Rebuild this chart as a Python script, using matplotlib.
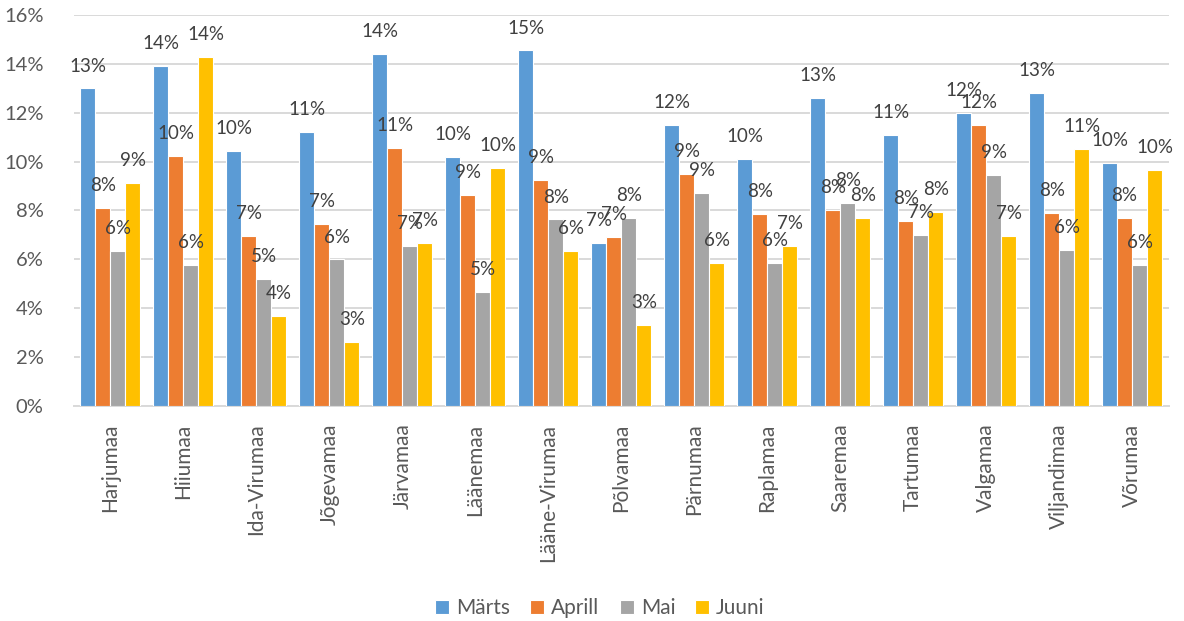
import numpy as np
import matplotlib
matplotlib.use('Agg')
import matplotlib.pyplot as plt
from matplotlib.ticker import FuncFormatter

plt.rcParams['font.family'] = ['Lato', 'DejaVu Sans']

counties = ['Harjumaa', 'Hiiumaa', 'Ida-Virumaa', 'Jõgevamaa', 'Järvamaa', 'Läänemaa',
            'Lääne-Virumaa', 'Põlvamaa', 'Pärnumaa', 'Raplamaa', 'Saaremaa', 'Tartumaa',
            'Valgamaa', 'Viljandimaa', 'Võrumaa']

# monthly shares, %
marts = [13.0, 13.93, 10.42, 11.2, 14.41, 10.19, 14.56, 6.65, 11.52, 10.1, 12.62, 11.09, 11.98, 12.8, 9.93]
aprill = [8.1, 10.22, 6.94, 7.43, 10.57, 8.64, 9.26, 6.91, 9.49, 7.85, 8.02, 7.56, 11.51, 7.9, 7.69]
mai = [6.32, 5.75, 5.19, 5.99, 6.54, 4.64, 7.63, 7.69, 8.7, 5.83, 8.29, 6.98, 9.45, 6.38, 5.76]
juuni = [9.11, 14.28, 3.67, 2.62, 6.65, 9.74, 6.35, 3.31, 5.83, 6.54, 7.69, 7.92, 6.96, 10.52, 9.66]

series = [('Märts', marts, '#5B9BD5'),
          ('Aprill', aprill, '#ED7D31'),
          ('Mai', mai, '#A5A5A5'),
          ('Juuni', juuni, '#FFC000')]

fig = plt.figure(figsize=(11.84, 6.21), dpi=100)
ax = fig.add_axes([0.0625, 0.347, 0.9245, 0.6284])

x = np.arange(len(counties))
w = 0.2055
for i, (name, vals, color) in enumerate(series):
    pos = x + (i - 1.5) * w
    bars = ax.bar(pos, vals, width=w, color=color, edgecolor='white', linewidth=0.8,
                  label=name, zorder=3)
    for b, v in zip(bars, vals):
        ax.annotate(f'{v:.0f}%', (b.get_x() + b.get_width() / 2, v),
                    xytext=(0, 10), textcoords='offset points',
                    ha='center', va='bottom', fontsize=13.5, color='#404040', zorder=4)

ax.set_ylim(0, 16)
ax.set_xlim(-0.5, len(counties) - 0.5)
ax.set_yticks(np.arange(0, 17, 2))
ax.yaxis.set_major_formatter(FuncFormatter(lambda v, p: f'{v:.0f}%'))
ax.set_xticks(x)
ax.set_xticklabels(counties, rotation=90)
ax.tick_params(axis='y', length=0, pad=22, labelsize=14.5, labelcolor='#595959')
ax.tick_params(axis='x', length=0, pad=13, labelsize=15, labelcolor='#595959')

ax.grid(axis='y', color='#D9D9D9', linewidth=1.4, zorder=0)
for s in ['top', 'right', 'left']:
    ax.spines[s].set_visible(False)
ax.spines['bottom'].set_color('#D9D9D9')
ax.spines['bottom'].set_linewidth(1.4)

fig.legend(loc='center', bbox_to_anchor=(600 / 1184, 1 - 608 / 621), ncol=4, frameon=False,
           fontsize=15, handlelength=0.67, handleheight=0.67, handletextpad=0.34,
           columnspacing=0.96, labelcolor='#595959')

fig.savefig('out.png', dpi=100)
